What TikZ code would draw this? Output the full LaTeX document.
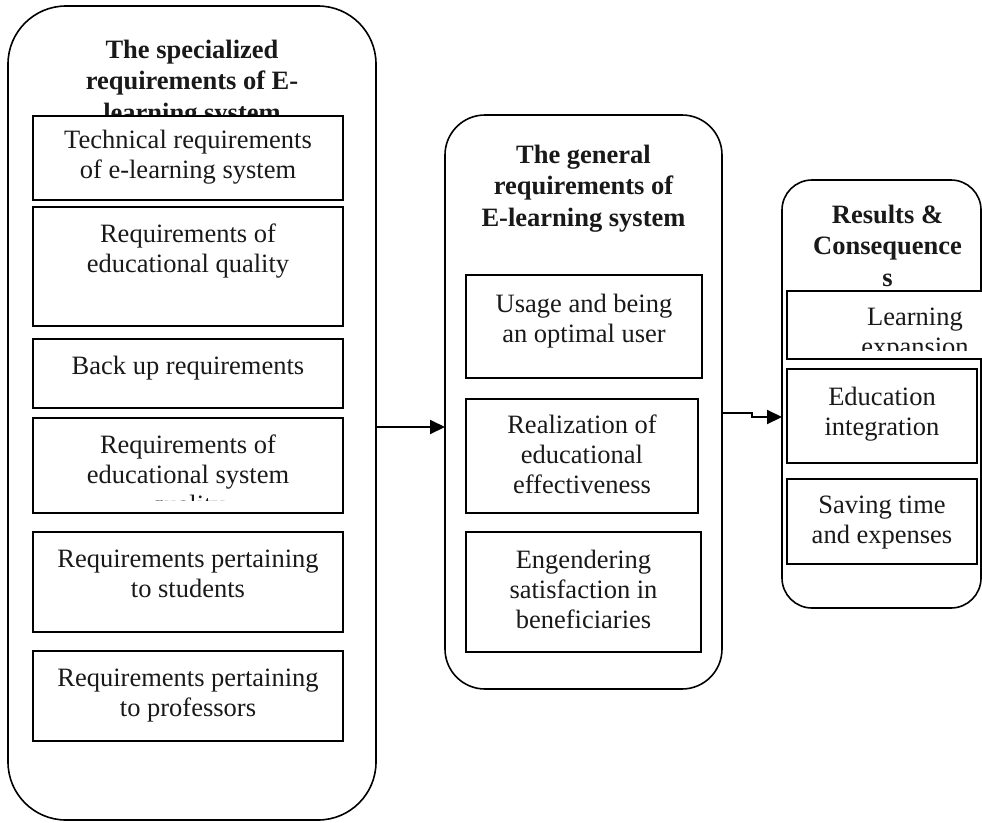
\documentclass[tikz,border=0pt]{standalone}
\usepackage{fontspec}
\setmainfont{Liberation Serif}
\usetikzlibrary{arrows.meta}
\newcommand\myup{\rule{0pt}{20pt}}
\begin{document}
\begin{tikzpicture}[x=1pt,y=-1pt,
  outerbox/.style={draw=black, line width=1.6pt, fill=white, inner sep=0pt, outer sep=0pt},
  innerbox/.style={draw=black, line width=1.8pt, fill=white, inner sep=0pt, outer sep=0pt},
  txt/.style={anchor=north, inner sep=0pt, align=center, text=black!90,
              font=\fontsize{26.5}{30}\selectfont},
  ttl/.style={anchor=north, inner sep=0pt, align=center, text=black!90,
              font=\fontsize{26.5}{31.5}\selectfont\bfseries},
  arr/.style={line width=2pt, -{Triangle[length=15pt,width=14pt]}}
]
\useasboundingbox (0,0) rectangle (982,822);

% ---- outer rounded containers
\node[outerbox, rounded corners=58pt, minimum width=368pt, minimum height=814pt] (L) at (192,413) {};
\node[outerbox, rounded corners=40pt, minimum width=277pt, minimum height=574pt] (M) at (583.5,402) {};
\node[outerbox, rounded corners=30pt, minimum width=199pt, minimum height=428pt] (R) at (881.5,394) {};

% ---- titles
\node[ttl] (Lt) at (192,38) {\myup The specialized\\requirements of E-\\learning system};
\node[ttl] (Mt) at (583.5,143) {\myup The general\\requirements of\\E-learning system};
\node[ttl] (Rt) at (887.5,203) {\myup Results \&\\Consequence\\s};

% ---- inner boxes, left
\node[innerbox, minimum width=310pt, minimum height=84pt]  (b1) at (188,158) {};
\node[innerbox, minimum width=310pt, minimum height=119pt] (b2) at (188,266.5) {};
\node[innerbox, minimum width=310pt, minimum height=69pt]  (b3) at (188,373.5) {};
\node[innerbox, minimum width=310pt, minimum height=95pt]  (b4) at (188,465.5) {};
\node[innerbox, minimum width=310pt, minimum height=100pt] (b5) at (188,582) {};
\node[innerbox, minimum width=310pt, minimum height=90pt]  (b6) at (188,696) {};

% ---- inner boxes, middle
\node[innerbox, minimum width=236pt, minimum height=103pt] (m1) at (584,326.5) {};
\node[innerbox, minimum width=232pt, minimum height=114pt] (m2) at (582,456) {};
\node[innerbox, minimum width=235pt, minimum height=120pt] (m3) at (583.5,592) {};

% ---- inner boxes, right
\node[innerbox, minimum width=256pt, minimum height=68pt] (r1) at (915,325) {};
\node[innerbox, minimum width=190pt, minimum height=94pt] (r2) at (882,416) {};
\node[innerbox, minimum width=190pt, minimum height=85pt] (r3) at (882,521.5) {};

% ---- texts, left
\node[txt] (t1) at (188,128) {\myup Technical requirements\\of e-learning system};
\node[txt] (t2) at (188,222) {\myup Requirements of\\educational quality};
\node[txt] (t3) at (188,354) {\myup Back up requirements};
\begin{scope}
  \clip (33,418) rectangle (343,500);
  \node[txt] (t4) at (188,433) {\myup Requirements of\\educational system\\quality};
\end{scope}
\node[txt] (t5) at (188,547) {\myup Requirements pertaining\\to students};
\node[txt] (t6) at (188,666) {\myup Requirements pertaining\\to professors};

% ---- texts, middle
\node[txt] (u1) at (584,292) {\myup Usage and being\\an optimal user};
\node[txt] (u2) at (582,413) {\myup Realization of\\educational\\effectiveness};
\node[txt] (u3) at (583.5,548) {\myup Engendering\\satisfaction in\\beneficiaries};

% ---- texts, right
\begin{scope}
  \clip (787,291) rectangle (982,350);
  \node[txt] (v1) at (915,305) {\myup Learning\\expansion};
\end{scope}
\node[txt] (v2) at (882,385) {\myup Education\\integration};
\node[txt] (v3) at (882,493) {\myup Saving time\\and expenses};

% ---- connectors
\draw[arr] (L.east |- 0,427) -- (M.west |- 0,427);
\draw[arr] (M.east |- 0,413) -- ++(30,0) -- ++(0,4) -- (R.west |- 0,417);
\end{tikzpicture}
\end{document}
